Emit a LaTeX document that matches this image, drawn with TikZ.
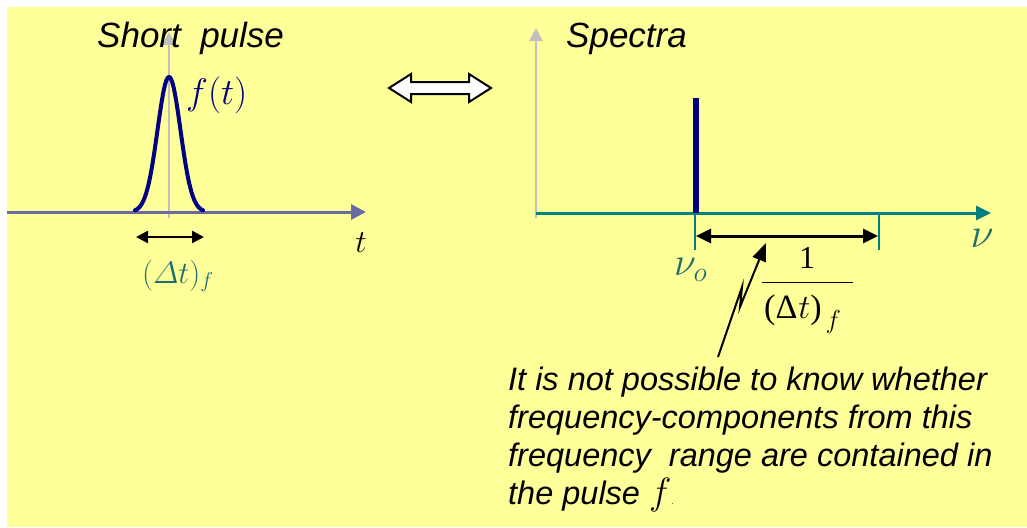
\documentclass[tikz,border=0pt]{standalone}
\usepackage{fix-cm}
\usepackage{amsmath}
\usepackage{fontspec}
\setmainfont{Liberation Serif}
\newfontfamily\arialf{Liberation Sans}
\usetikzlibrary{arrows.meta}
\definecolor{bg}{HTML}{FFFF99}
\definecolor{navy}{HTML}{000080}
\definecolor{axblue}{HTML}{6B6BA3}
\definecolor{axgray}{HTML}{C0C0C0}
\definecolor{tealax}{HTML}{008080}
\definecolor{teallab}{HTML}{1F6F6F}
\begin{document}
\begin{tikzpicture}[x=1pt,y=-1pt,
  head/.style={font=\arialf\itshape\fontsize{35}{40}\selectfont, inner sep=0, anchor=base west},
  body/.style={font=\arialf\itshape\fontsize{32.5}{38}\selectfont, inner sep=0, anchor=north west, align=left},
  mth/.style={font=\fontsize{#1}{#1}\selectfont, inner sep=0},
  grayaxis/.style={axgray, line width=2pt, -{Triangle[length=13pt,width=13pt]}},
  timeaxis/.style={axblue, line width=3pt, -{Triangle[length=15pt,width=15pt]}},
  freqaxis/.style={tealax, line width=3pt, -{Triangle[length=15pt,width=14pt]}},
  dbl/.style={black, line width=2.5pt, {Triangle[length=12pt,width=12pt]}-{Triangle[length=12pt,width=12pt]}},
  tick/.style={tealax, line width=1.5pt},
]
\useasboundingbox (0,0) rectangle (1027,527);
\fill[bg] (7,7) rectangle (1027,527);

% ---------- left panel ----------
\coordinate (gl0) at (169,218);
\coordinate (gl1) at (169,32);
\draw[grayaxis] (gl0) -- (gl1);
\coordinate (tl0) at (7,212);
\coordinate (tl1) at (366,212);
\draw[timeaxis] (tl0) -- (tl1);
\draw[navy, line width=4pt, line cap=round, line join=round]
  plot[domain=135:203, samples=80, smooth] (\x, {212-135*exp(-((\x-169)/11.5)^2/2)});
\node[head] (short) at (97,48) {Short\ \ pulse};
\node[mth=37, navy, anchor=base west] (ft) at (186,104) {$f(t)$};
\coordinate (dl0) at (136,237);
\coordinate (dl1) at (204,237);
\draw[dbl] (dl0) -- (dl1);
\node[mth=31, teallab, anchor=base west] (dtf) at (142,283) {$(\varDelta t)_f$};
\node[mth=32, anchor=base] (tlab) at (361,252) {$t$};

% ---------- middle outline double arrow ----------
\draw[black, line width=2pt, fill=white, line join=miter]
  (389,88) -- (411,74) -- (411,82) -- (469,82) -- (469,74) -- (491,88)
  -- (469,102) -- (469,94) -- (411,94) -- (411,102) -- cycle;

% ---------- right panel ----------
\coordinate (gr0) at (536,218);
\coordinate (gr1) at (536,28);
\draw[grayaxis] (gr0) -- (gr1);
\node[head] (spec) at (566,48) {Spectra};
\coordinate (fa0) at (536,213);
\coordinate (fa1) at (991,213);
\draw[freqaxis] (fa0) -- (fa1);
\coordinate (sp0) at (695.5,213);
\coordinate (sp1) at (695.5,98);
\draw[navy, line width=6pt] (sp0) -- (sp1);
\coordinate (tk0a) at (695,213);
\coordinate (tk0b) at (695,250);
\coordinate (tk1a) at (879,213);
\coordinate (tk1b) at (879,250);
\draw[tick] (tk0a) -- (tk0b);
\draw[tick] (tk1a) -- (tk1b);
\coordinate (dr0) at (696,236);
\coordinate (dr1) at (878,236);
\draw[dbl, line width=3pt, {Triangle[length=15pt,width=14pt]}-{Triangle[length=15pt,width=14pt]}] (dr0) -- (dr1);
\node[mth=42, teallab, anchor=base] (nu) at (982,247) {$\nu$};
\node[mth=40, teallab, anchor=base west] (nuo) at (674,275) {$\nu_o$};
% fraction
\node[font=\fontsize{32}{32}\selectfont, inner sep=0, anchor=base] (one) at (807,268) {1};
\coordinate (bar0) at (762,282);
\coordinate (bar1) at (853,282);
\draw[black, line width=1pt] (bar0) -- (bar1);
\node[font=\fontsize{34}{34}\selectfont, inner sep=0, anchor=base west] (den) at (764,318)
  {(Δ\hspace{1pt}$t$)\hspace{4pt}\raisebox{-0.3em}{\fontsize{26}{26}\selectfont$f$}};
% zigzag pointer
\coordinate (zz0) at (718,357);
\coordinate (zz3) at (766,243);
\draw[black, line width=2pt, -{Triangle[length=18pt,width=14pt]}]
  (zz0) -- (742,287) -- (740,307) -- (zz3);
% explanatory text
\node[body] (note) at (508,367) {It is not possible to know whether\\frequency-components from this\\frequency\ \ range are contained in\\the pulse {\fontsize{38}{38}\selectfont$f$}{\fontsize{8}{8}\selectfont .}};
\end{tikzpicture}
\end{document}
